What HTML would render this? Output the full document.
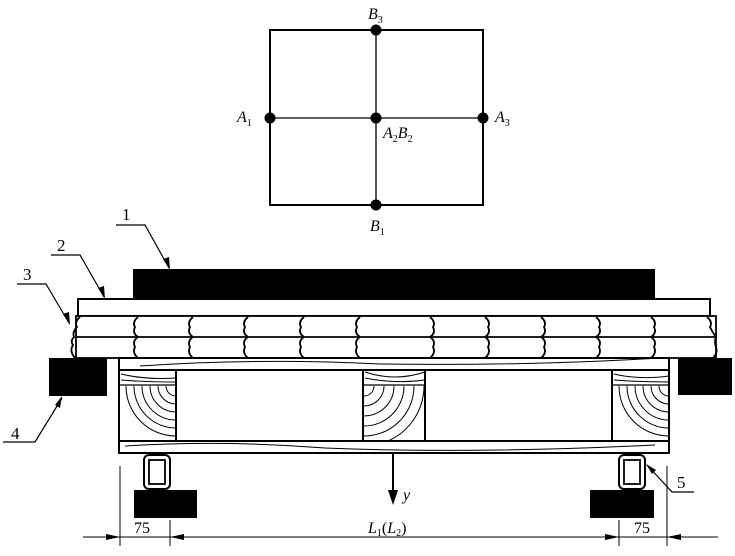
<!DOCTYPE html>
<html><head><style>html,body{margin:0;padding:0;background:#fff}svg{display:block}</style></head>
<body>
<svg width="735" height="556" viewBox="0 0 735 556" xmlns="http://www.w3.org/2000/svg" font-family="Liberation Serif, serif">
<defs>
<clipPath id="cl"><rect x="121" y="386" width="55" height="55"/></clipPath>
<clipPath id="cm"><rect x="364" y="386" width="60" height="55"/></clipPath>
<clipPath id="cr"><rect x="613" y="386" width="55" height="55"/></clipPath>
</defs>
<rect x="270" y="30" width="213" height="175" fill="none" stroke="#000" stroke-width="2"/>
<line x1="376" y1="30" x2="376" y2="205" stroke="#000" stroke-width="1.3"/>
<line x1="270" y1="118" x2="483" y2="118" stroke="#000" stroke-width="1.3"/>
<g fill="#000"><circle cx="376" cy="30" r="5.5"/><circle cx="270" cy="118" r="5.5"/><circle cx="376" cy="118" r="5.5"/><circle cx="483" cy="118" r="5.5"/><circle cx="376" cy="205" r="5.5"/></g>
<g font-style="italic" font-size="16">
<text x="368" y="19">B<tspan font-size="10" dy="4" font-style="normal">3</tspan></text>
<text x="237" y="122">A<tspan font-size="10" dy="4" font-style="normal">1</tspan></text>
<text x="383" y="138">A<tspan font-size="10" dy="4" font-style="normal">2</tspan><tspan dy="-4">B</tspan><tspan font-size="10" dy="4" font-style="normal">2</tspan></text>
<text x="495" y="122">A<tspan font-size="10" dy="4" font-style="normal">3</tspan></text>
<text x="370" y="231">B<tspan font-size="10" dy="4" font-style="normal">1</tspan></text>
</g>
<rect x="133" y="269" width="522" height="30" fill="#000"/>
<rect x="78" y="299" width="632" height="17" fill="#fff" stroke="#000" stroke-width="2"/>
<rect x="76" y="316" width="640" height="42" fill="#fff" stroke="#000" stroke-width="1.8"/>
<line x1="76" y1="337" x2="716" y2="337" stroke="#000" stroke-width="1.8"/>
<g fill="none" stroke="#000" stroke-width="1.8">
<path d="M80 317 q-6 5 -3 10 q-5 5 -3 10 q-4 4 -1 8 q-4 6 2 13"/>
<path d="M138 317 q-6 5 -3 10 q-3 6 3 10 q-6 4 -3 10 q-3 6 3 11"/>
<path d="M193 317 q-6 5 -3 10 q-3 6 3 10 q-6 4 -3 10 q-3 6 3 11"/>
<path d="M248 317 q-6 5 -3 10 q-3 6 3 10 q-6 4 -3 10 q-3 6 3 11"/>
<path d="M304 317 q-6 5 -3 10 q-3 6 3 10 q-6 4 -3 10 q-3 6 3 11"/>
<path d="M360 317 q-6 5 -3 10 q-3 6 3 10 q-6 4 -3 10 q-3 6 3 11"/>
<path d="M430 317 q6 5 3 10 q3 6 -3 10 q6 4 3 10 q3 6 -3 11"/>
<path d="M485 317 q6 5 3 10 q3 6 -3 10 q6 4 3 10 q3 6 -3 11"/>
<path d="M541 317 q6 5 3 10 q3 6 -3 10 q6 4 3 10 q3 6 -3 11"/>
<path d="M596 317 q6 5 3 10 q3 6 -3 10 q6 4 3 10 q3 6 -3 11"/>
<path d="M651 317 q6 5 3 10 q3 6 -3 10 q6 4 3 10 q3 6 -3 11"/>
<path d="M707 317 q6 5 3 10 q3 6 6 10 q-2 4 0 10 q2 6 -3 11"/>
</g>
<rect x="119" y="358" width="550" height="95" fill="#fff" stroke="#000" stroke-width="2"/>
<line x1="119" y1="370" x2="669" y2="370" stroke="#000" stroke-width="2"/>
<line x1="119" y1="441" x2="669" y2="441" stroke="#000" stroke-width="2"/>
<g stroke="#000" stroke-width="2"><line x1="176" y1="370" x2="176" y2="441"/><line x1="363" y1="370" x2="363" y2="441"/><line x1="425" y1="370" x2="425" y2="441"/><line x1="612" y1="370" x2="612" y2="441"/></g>
<g stroke="#000" stroke-width="1.2"><line x1="119" y1="385" x2="176" y2="385"/><line x1="363" y1="385" x2="425" y2="385"/><line x1="612" y1="385" x2="669" y2="385"/></g>
<g fill="none" stroke="#000" stroke-width="1">
<path d="M140 366 q120 -8 240 -2 q150 2 280 -6"/>
<path d="M125 446 q100 -6 200 2 q150 6 330 -3"/>
<path d="M121 374 q25 6 55 4"/><path d="M121 380 q25 2 55 2"/>
<path d="M365 372 q30 10 60 0"/><path d="M365 378 q30 6 60 2"/>
<path d="M614 374 q25 6 55 2"/><path d="M614 380 q25 2 55 2"/>
<g clip-path="url(#cl)"><circle cx="176" cy="386" r="10"/><circle cx="176" cy="386" r="18"/><circle cx="176" cy="386" r="26"/><circle cx="176" cy="386" r="34"/><circle cx="176" cy="386" r="42"/><circle cx="176" cy="386" r="50"/></g>
<g clip-path="url(#cm)"><circle cx="364" cy="386" r="10"/><circle cx="364" cy="386" r="20"/><circle cx="364" cy="386" r="30"/><circle cx="364" cy="386" r="40"/><circle cx="364" cy="386" r="50"/><circle cx="364" cy="386" r="60"/></g>
<g clip-path="url(#cr)"><circle cx="669" cy="386" r="10"/><circle cx="669" cy="386" r="18"/><circle cx="669" cy="386" r="26"/><circle cx="669" cy="386" r="34"/><circle cx="669" cy="386" r="42"/><circle cx="669" cy="386" r="50"/></g>
</g>
<rect x="49" y="358" width="58" height="38" fill="#000"/>
<rect x="678" y="358" width="54" height="37" fill="#000"/>
<rect x="144" y="455" width="26" height="34" rx="5" fill="#fff" stroke="#000" stroke-width="2"/>
<rect x="149" y="460" width="16" height="24" fill="none" stroke="#000" stroke-width="1.8"/>
<rect x="619" y="455" width="26" height="34" rx="5" fill="#fff" stroke="#000" stroke-width="2"/>
<rect x="624" y="460" width="16" height="24" fill="none" stroke="#000" stroke-width="1.8"/>
<rect x="134" y="490" width="63" height="28" fill="#000"/>
<rect x="590" y="490" width="64" height="28" fill="#000"/>
<line x1="393" y1="453" x2="393" y2="492" stroke="#000" stroke-width="2"/>
<polygon points="388,490 398,490 393,505" fill="#000"/>
<text x="403" y="500" font-size="16" font-style="italic">y</text>
<g stroke="#000" stroke-width="1">
<line x1="83" y1="537" x2="718" y2="537"/>
<line x1="120" y1="466" x2="120" y2="546"/><line x1="170" y1="520" x2="170" y2="546"/>
<line x1="619" y1="520" x2="619" y2="546"/><line x1="667" y1="466" x2="667" y2="546"/>
</g>
<g fill="#000">
<polygon points="120,537 106,534 106,540"/><polygon points="170,537 184,534 184,540"/>
<polygon points="619,537 605,534 605,540"/><polygon points="667,537 681,534 681,540"/>
</g>
<g font-size="16"><text x="134" y="533">75</text><text x="634" y="533">75</text>
<text x="368" y="533" font-style="italic">L<tspan font-size="10" dy="3" font-style="normal">1</tspan><tspan dy="-3" font-style="normal">(</tspan>L<tspan font-size="10" dy="3" font-style="normal">2</tspan><tspan dy="-3" font-style="normal">)</tspan></text></g>
<g stroke="#000" stroke-width="1.2" fill="none">
<polyline points="116,225 145,225 169,268"/>
<polyline points="51,255 80,255 104,297"/>
<polyline points="17,284 46,284 69,323"/>
<polyline points="3,442 35,442 62,398"/>
<polyline points="647,465 672,492 694,492"/>
</g>
<g fill="#000">
<polygon points="170,270 163,259 169,257"/>
<polygon points="105,299 98,288 104,286"/>
<polygon points="70,325 63,314 69,312"/>
<polygon points="62,396 60,408 55,405"/>
<polygon points="646,464 656,470 652,474"/>
</g>
<g font-size="17"><text x="122" y="220">1</text><text x="57" y="251">2</text><text x="23" y="280">3</text><text x="11" y="439">4</text><text x="677" y="488">5</text></g>
</svg>
</body></html>
